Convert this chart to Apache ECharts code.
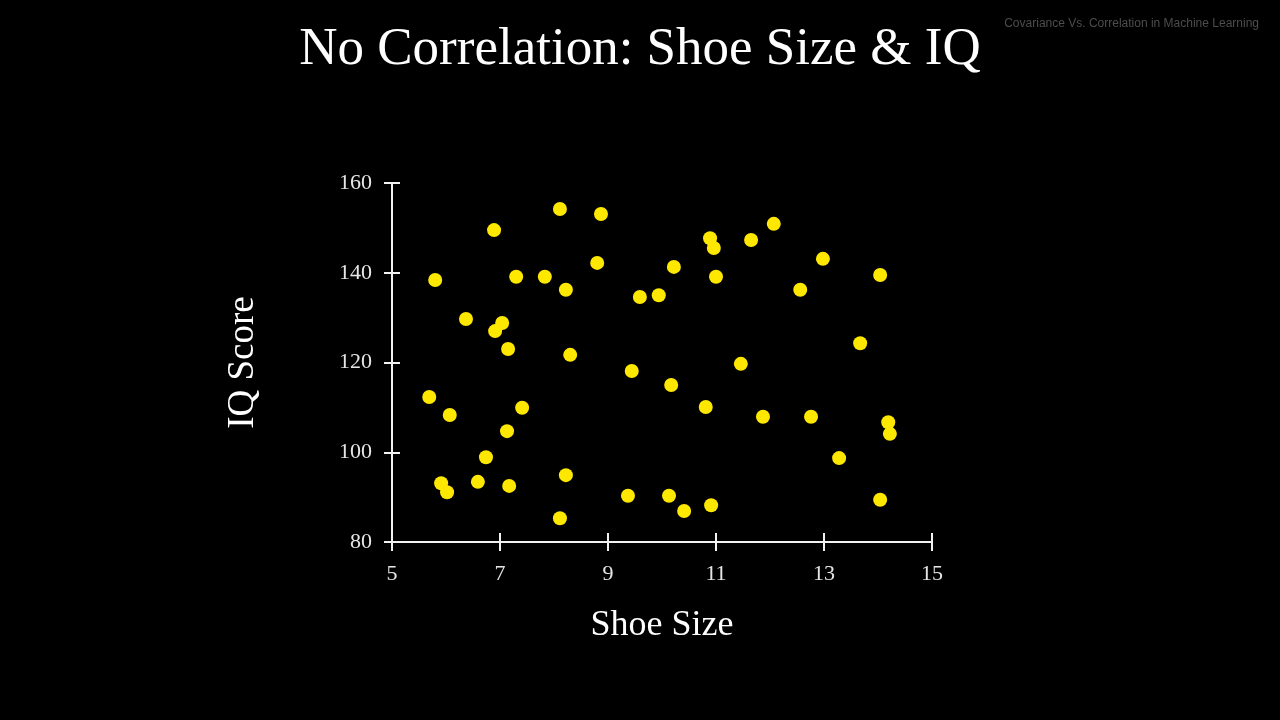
<!DOCTYPE html>
<html>
<head>
<meta charset="utf-8">
<style>
  html, body { margin: 0; padding: 0; background: #000; }
  #chart { width: 1280px; height: 720px; }
</style>
<script src="https://cdn.jsdelivr.net/npm/echarts@6/dist/echarts.min.js"></script>
</head>
<body>
<div id="chart"></div>
<script>
// shoe size vs IQ score
var shoeSize = [5.69, 5.80, 5.91, 6.02, 6.07, 6.37, 6.59, 6.74, 6.89, 6.91,
  7.04, 7.15, 7.13, 7.17, 7.30, 7.41, 7.83, 8.11, 8.11, 8.22,
  8.22, 8.30, 8.80, 8.87, 9.37, 9.44, 9.59, 9.94, 10.13, 10.17,
  10.22, 10.41, 10.81, 10.89, 10.91, 10.96, 11.00, 11.46, 11.65, 11.87,
  12.07, 12.56, 12.76, 12.98, 13.28, 13.67, 14.04, 14.04, 14.19, 14.22]
var iqScore = [112.3, 138.4, 93.1, 91.1, 108.3, 129.7, 93.4, 98.9, 149.5, 127.0,
  128.8, 123.0, 104.7, 92.5, 139.1, 109.9, 139.1, 154.2, 85.3, 136.2,
  94.9, 121.7, 142.2, 153.1, 90.3, 118.1, 134.6, 135.0, 90.3, 115.0,
  141.3, 86.9, 110.1, 147.7, 88.2, 145.5, 139.1, 119.7, 147.3, 107.9,
  150.9, 136.2, 107.9, 143.1, 98.7, 124.3, 139.5, 89.4, 106.7, 104.1]

var points = []
for (var i = 0; i < shoeSize.length; i++) {
  points.push([shoeSize[i], iqScore[i]])
}

var serif = 'Liberation Serif'
var lineColor = '#f2f2f2'

var chart = echarts.init(document.getElementById('chart'))
var option = {
  backgroundColor: '#000',
  animation: false,
  title: [
    {
      text: 'No Correlation: Shoe Size & IQ',
      left: 'center',
      top: 19,
      textStyle: { color: '#fff', fontFamily: serif, fontSize: 53, fontWeight: 'normal' }
    },
    {
      text: 'Covariance Vs. Correlation in Machine Learning',
      right: 16,
      top: 13,
      textStyle: { color: '#4d4d4d', fontFamily: 'Liberation Sans', fontSize: 12, fontWeight: 'normal' }
    }
  ],
  grid: { left: 392, right: 348, top: 183, bottom: 178 },
  xAxis: [
    {
      type: 'value',
      min: 5,
      max: 15,
      interval: 2,
      position: 'bottom',
      name: 'Shoe Size',
      nameLocation: 'middle',
      nameGap: 66,
      nameTextStyle: { color: '#fff', fontFamily: serif, fontSize: 36 },
      axisLine: { lineStyle: { color: lineColor, width: 2 } },
      axisTick: { length: 9, lineStyle: { color: lineColor, width: 2 } },
      axisLabel: { color: '#e6e6e6', fontFamily: serif, fontSize: 22, margin: 21 },
      splitLine: { show: false }
    },
    {
      type: 'value',
      min: 5,
      max: 15,
      interval: 2,
      position: 'bottom',
      axisLine: { show: false },
      axisTick: { inside: true, length: 9, lineStyle: { color: lineColor, width: 2 } },
      axisLabel: { show: false },
      splitLine: { show: false }
    }
  ],
  yAxis: [
    {
      type: 'value',
      min: 80,
      max: 160,
      interval: 20,
      position: 'left',
      name: 'IQ Score',
      nameLocation: 'middle',
      nameGap: 130,
      nameRotate: 90,
      nameTextStyle: { color: '#fff', fontFamily: serif, fontSize: 37 },
      axisLine: { lineStyle: { color: lineColor, width: 2 } },
      axisTick: { length: 8, lineStyle: { color: lineColor, width: 2 } },
      axisLabel: { color: '#e6e6e6', fontFamily: serif, fontSize: 22, margin: 20 },
      splitLine: { show: false }
    },
    {
      type: 'value',
      min: 80,
      max: 160,
      interval: 20,
      position: 'left',
      axisLine: { show: false },
      axisTick: { inside: true, length: 8, lineStyle: { color: lineColor, width: 2 } },
      axisLabel: { show: false },
      splitLine: { show: false }
    }
  ],
  series: [
    {
      type: 'scatter',
      xAxisIndex: 0,
      yAxisIndex: 0,
      data: points,
      symbolSize: 14,
      itemStyle: { color: '#ffe800', opacity: 1 }
    }
  ]
}
chart.setOption(option)
</script>
</body>
</html>
